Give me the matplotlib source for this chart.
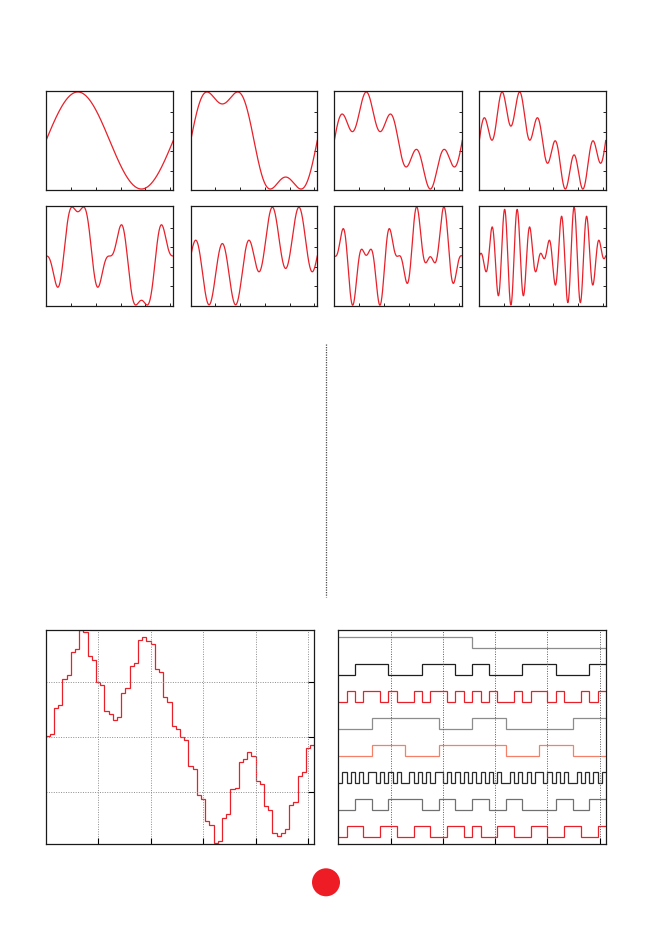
import numpy as np
import matplotlib
matplotlib.use('agg')
import matplotlib.pyplot as plt
from matplotlib.lines import Line2D
from matplotlib.patches import Ellipse

W, H = 653, 936
PERIOD = 1.024
DT = 0.016
RED = '#e8202a'

# harmonic content of the eight small panels (sine terms over one period)
panel_harmonics = [
    [1],
    [1, 3],
    [1, 3, 5],
    [1, 3, 5, 7],
    [1, 3, 5, 7, 9],
    [1, 3, 5, 7],
    [1, 5, 9],
    [9, 11],
]
panel_amplitudes = [
    [1.0],
    [1.083, 0.330],
    [0.655, -0.013, 0.332],
    [0.665, -0.036, -0.036, 0.369],
    [0.475, -0.697, -0.036, 0.243, 0.010],
    [-0.466, -0.185, 0.564, 0.029],
    [-0.233, 0.545, -0.298],
    [-0.5, 0.5],
]

# sampled (stepped) signal, 64 samples
stair_vals = [0.01, 0.03, 0.26, 0.29, 0.53, 0.56, 0.77, 0.80,
              0.97, 0.95, 0.73, 0.70, 0.50, 0.47, 0.24, 0.21,
              0.15, 0.18, 0.40, 0.44, 0.64, 0.67, 0.88, 0.91,
              0.87, 0.84, 0.62, 0.59, 0.36, 0.32, 0.10, 0.07,
              0.00, -0.03, -0.26, -0.29, -0.53, -0.56, -0.76, -0.80,
              -0.96, -0.94, -0.73, -0.70, -0.47, -0.46, -0.23, -0.20,
              -0.14, -0.17, -0.40, -0.43, -0.63, -0.66, -0.87, -0.90,
              -0.87, -0.83, -0.62, -0.59, -0.35, -0.32, -0.10, -0.07]

# square-wave rows, top to bottom
walsh_1 = [1]*16 + [0]*16
walsh_2 = [0, 1, 1, 0, 0, 1, 1, 0, 1, 0, 0, 1, 1, 0, 0, 1]
walsh_3 = [0, 1, 0, 1, 1, 0, 1, 0, 0, 1, 0, 1, 1, 0, 1, 0,
           1, 0, 1, 0, 0, 1, 0, 1, 1, 0, 1, 0, 0, 1, 0, 1]
walsh_4 = [0, 1, 1, 0, 1, 0, 0, 1]
walsh_5 = [0, 1, 0, 1, 1, 0, 1, 0]
walsh_6 = ([0, 1]*4 + [1, 0]*4 + [0, 1]*4 + [1, 0]*4 +
           [1, 0]*4 + [0, 1]*4 + [1, 0]*4 + [0, 1]*4)
walsh_7 = [0, 1, 0, 1, 1, 0, 1, 0, 1, 0, 1, 0, 0, 1, 0, 1]
walsh_8 = [0, 1, 1, 0, 0, 1, 1, 0, 0, 1, 1, 0, 0, 1, 1, 0,
           1, 0, 0, 1, 1, 0, 0, 1, 1, 0, 0, 1, 1, 0, 0, 1]
walsh_rows = [walsh_1, walsh_2, walsh_3, walsh_4, walsh_5, walsh_6, walsh_7, walsh_8]
walsh_colors = ['#8c8c8c', '#1e1e1e', RED, '#8c8c8c', '#f4806a', '#2a2a2a', '#707070', RED]


def px_axes(fig, x0, y0, x1, y1):
    return fig.add_axes([x0/W, 1 - y1/H, (x1 - x0)/W, (y1 - y0)/H])


def frame(ax):
    for s in ax.spines.values():
        s.set_linewidth(0.9)
        s.set_color('#1a1a1a')


fig = plt.figure(figsize=(W/100, H/100), dpi=100)

# small panels
cols = [(46, 173.3), (190.7, 317.3), (334.3, 462.3), (479.3, 605.7)]
rows_y = [(91, 190), (206, 306)]
xs = np.linspace(0, PERIOD, 800)
for i, (harm, amp) in enumerate(zip(panel_harmonics, panel_amplitudes)):
    x0, x1 = cols[i % 4]
    y0, y1 = rows_y[i // 4]
    ax = px_axes(fig, x0, y0, x1, y1)
    y = sum(a*np.sin(2*np.pi*n*xs/PERIOD) for n, a in zip(harm, amp))
    ax.plot(xs, y, color=RED, lw=0.9)
    ax.set_xlim(0, PERIOD)
    ax.set_ylim(-1.02, 1.02)
    ax.set_xticks([0.2, 0.4, 0.6, 0.8, 1.0])
    ax.set_yticks([-0.62, -0.22, 0.18, 0.58])
    ax.tick_params(direction='in', length=2.5, width=0.6, left=False, right=True,
                   labelleft=False, labelbottom=False)
    frame(ax)

# stepped signal
ax = px_axes(fig, 45.7, 630, 314.3, 844)
edges = np.arange(len(stair_vals) + 1)*DT
ax.stairs(stair_vals, edges, baseline=None, color=RED, lw=0.9)
ax.set_xlim(0, PERIOD)
ax.set_ylim(-0.97, 0.97)
ax.set_xticks([0.2, 0.4, 0.6, 0.8, 1.0])
ax.set_yticks([-0.5, 0, 0.5])
ax.grid(True, ls=(0, (1, 1.5)), color='0.55', lw=0.7)
ax.tick_params(direction='in', length=4, width=0.8, left=False, right=True,
               labelleft=False, labelbottom=False)
frame(ax)

# square waves
ax = px_axes(fig, 338.3, 630, 606, 844)
for k, (bits, col) in enumerate(zip(walsh_rows, walsh_colors)):
    e = np.linspace(0, PERIOD, len(bits) + 1)
    ax.stairs(7 - k + 0.41*np.array(bits), e, baseline=None, color=col, lw=0.9)
ax.set_xlim(0, PERIOD)
ax.set_ylim(-0.27, 7.68)
ax.set_xticks([0.2, 0.4, 0.6, 0.8, 1.0])
ax.set_yticks([])
ax.grid(True, axis='x', ls=(0, (1, 1.5)), color='0.35', lw=0.7)
ax.tick_params(direction='in', length=4, width=0.8, labelbottom=False)
frame(ax)

# divider and page mark
fig.add_artist(Line2D([326.3/W, 326.3/W], [1 - 344/H, 1 - 597/H], transform=fig.transFigure,
                      ls=(0, (1, 1)), color='0.3', lw=0.9))
fig.add_artist(Ellipse((326/W, 1 - 882.3/H), 28/W, 28/H, transform=fig.transFigure,
                       color='#ee1c25', lw=0))

fig.savefig('out.png', dpi=100)
